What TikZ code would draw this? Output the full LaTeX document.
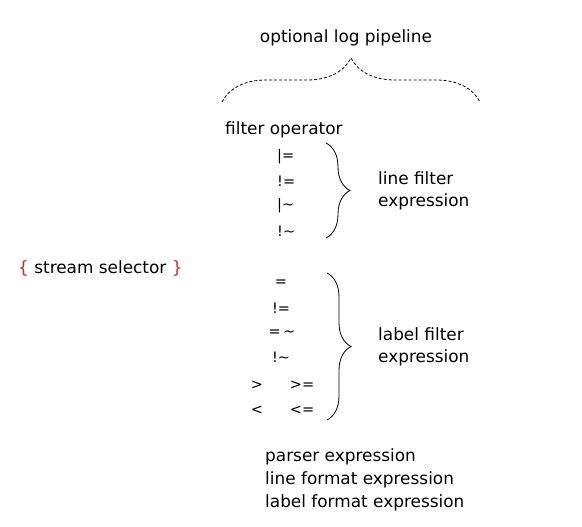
\documentclass[tikz,border=0pt]{standalone}
\usepackage{fontspec}
\setmainfont{DejaVu Sans}
\usetikzlibrary{decorations.pathreplacing}
\definecolor{selred}{RGB}{200,40,40}
\begin{document}
\begin{tikzpicture}[x=1pt,y=-1pt,
  txt/.style={inner sep=0pt,font=\fontsize{16.9}{22}\selectfont},
  op/.style={inner sep=0pt,font=\fontsize{14.5}{16}\selectfont},
  brc/.style={decorate,decoration={brace,amplitude=24pt},line width=0.8pt},
  dbrc/.style={decorate,decoration={brace,amplitude=44pt},line width=0.8pt,dash pattern=on 3pt off 2pt}]
\useasboundingbox (0,0) rectangle (582,527);
\node[txt] (title) at (346,38) {optional log pipeline};
\coordinate (pl) at (222,102);
\coordinate (pr) at (480,102);
\draw[dbrc] (pl) -- (pr);
\node[txt,anchor=west] (fop) at (225,130) {filter operator};
\node[op,anchor=west] (l1) at (277,157) {|=};
\node[op,anchor=west] (l2) at (277,181) {!=};
\node[op,anchor=west] (l3) at (277,206) {|\char"007E};
\node[op,anchor=west] (l4) at (277,231) {!\char"007E};
\coordinate (b1t) at (326,143);
\coordinate (b1b) at (326,238);
\draw[brc] (b1t) -- (b1b);
\node[txt,anchor=west,align=left] (lfe) at (378,191) {line filter\\expression};
\node[txt,anchor=west] (ss) at (18,268) {\textcolor{selred}{\{} stream selector \textcolor{selred}{\}}};
\node[op] (m1) at (281,283) {=};
\node[op] (m2) at (281,308) {!=};
\node[op] (m3) at (282,333) {=\,\char"007E};
\node[op] (m4) at (281,357) {!\char"007E};
\node[op] (m5) at (257,385) {>};
\node[op] (m6) at (302,385) {>=};
\node[op] (m7) at (257,410) {<};
\node[op] (m8) at (302,410) {<=};
\coordinate (b2t) at (327,273);
\coordinate (b2b) at (327,420);
\draw[brc] (b2t) -- (b2b);
\node[txt,anchor=west,align=left] (lbe) at (378,347) {label filter\\expression};
\node[txt,anchor=west] (pe) at (265,457) {parser expression};
\node[txt,anchor=west] (lf) at (265,480) {line format expression};
\node[txt,anchor=west] (lb) at (265,503) {label format expression};
\end{tikzpicture}
\end{document}
